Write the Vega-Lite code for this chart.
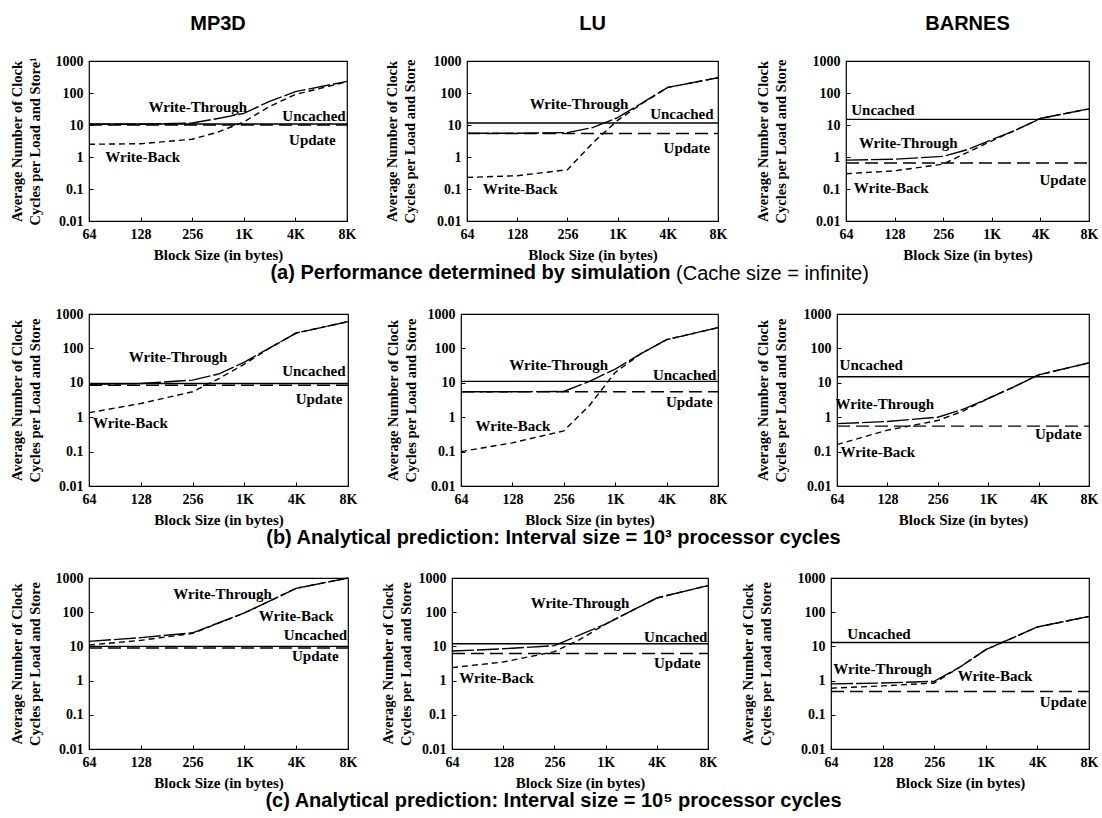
{
"$schema":"https://vega.github.io/schema/vega-lite/v6.json",
"background":"white",
"padding":{"left":8,"top":13,"right":0,"bottom":2},
"datasets":{"d":[
{"p":"aM","k":"L","s":"U","x":0,"v":10.8},{"p":"aM","k":"L","s":"U","x":5,"v":10.8},
{"p":"aM","k":"L","s":"P","x":0,"v":10},{"p":"aM","k":"L","s":"P","x":5,"v":10},
{"p":"aM","k":"L","s":"T","x":0,"v":10.5},{"p":"aM","k":"L","s":"T","x":1,"v":10.5},{"p":"aM","k":"L","s":"T","x":2,"v":11.5},{"p":"aM","k":"L","s":"T","x":2.5,"v":16},{"p":"aM","k":"L","s":"T","x":3,"v":23},{"p":"aM","k":"L","s":"T","x":3.5,"v":55},{"p":"aM","k":"L","s":"T","x":4,"v":110},{"p":"aM","k":"L","s":"T","x":5,"v":230},
{"p":"aM","k":"L","s":"B","x":0,"v":2.5},{"p":"aM","k":"L","s":"B","x":1,"v":2.6},{"p":"aM","k":"L","s":"B","x":2,"v":3.6},{"p":"aM","k":"L","s":"B","x":2.5,"v":6},{"p":"aM","k":"L","s":"B","x":3,"v":12.5},{"p":"aM","k":"L","s":"B","x":3.5,"v":38},{"p":"aM","k":"L","s":"B","x":4,"v":90},{"p":"aM","k":"L","s":"B","x":5,"v":225},
{"p":"aM","k":"T","t":"Write-Through","x":2.11,"v":36},{"p":"aM","k":"T","t":"Uncached","x":4.36,"v":19},{"p":"aM","k":"T","t":"Update","x":4.33,"v":3.4},{"p":"aM","k":"T","t":"Write-Back","x":1.04,"v":1.0},

{"p":"aL","k":"L","s":"U","x":0,"v":11.5},{"p":"aL","k":"L","s":"U","x":5,"v":11.5},
{"p":"aL","k":"L","s":"P","x":0,"v":5.4},{"p":"aL","k":"L","s":"P","x":5,"v":5.4},
{"p":"aL","k":"L","s":"T","x":0,"v":5.5},{"p":"aL","k":"L","s":"T","x":1,"v":5.5},{"p":"aL","k":"L","s":"T","x":2,"v":5.8},{"p":"aL","k":"L","s":"T","x":2.5,"v":8.3},{"p":"aL","k":"L","s":"T","x":3,"v":17},{"p":"aL","k":"L","s":"T","x":3.5,"v":50},{"p":"aL","k":"L","s":"T","x":4,"v":150},{"p":"aL","k":"L","s":"T","x":5,"v":300},
{"p":"aL","k":"L","s":"B","x":0,"v":0.23},{"p":"aL","k":"L","s":"B","x":1,"v":0.26},{"p":"aL","k":"L","s":"B","x":2,"v":0.4},{"p":"aL","k":"L","s":"B","x":2.5,"v":2.7},{"p":"aL","k":"L","s":"B","x":3,"v":14},{"p":"aL","k":"L","s":"B","x":3.5,"v":48},{"p":"aL","k":"L","s":"B","x":4,"v":150},{"p":"aL","k":"L","s":"B","x":5,"v":300},
{"p":"aL","k":"T","t":"Write-Through","x":2.23,"v":46},{"p":"aL","k":"T","t":"Uncached","x":4.28,"v":22},{"p":"aL","k":"T","t":"Update","x":4.38,"v":1.9},{"p":"aL","k":"T","t":"Write-Back","x":1.06,"v":0.1},

{"p":"aB","k":"L","s":"U","x":0,"v":15},{"p":"aB","k":"L","s":"U","x":5,"v":15},
{"p":"aB","k":"L","s":"P","x":0,"v":0.65},{"p":"aB","k":"L","s":"P","x":5,"v":0.65},
{"p":"aB","k":"L","s":"T","x":0,"v":0.8},{"p":"aB","k":"L","s":"T","x":1,"v":0.85},{"p":"aB","k":"L","s":"T","x":2,"v":1.05},{"p":"aB","k":"L","s":"T","x":2.5,"v":1.7},{"p":"aB","k":"L","s":"T","x":3,"v":3.5},{"p":"aB","k":"L","s":"T","x":3.5,"v":7},{"p":"aB","k":"L","s":"T","x":4,"v":16},{"p":"aB","k":"L","s":"T","x":5,"v":32},
{"p":"aB","k":"L","s":"B","x":0,"v":0.3},{"p":"aB","k":"L","s":"B","x":1,"v":0.37},{"p":"aB","k":"L","s":"B","x":2,"v":0.6},{"p":"aB","k":"L","s":"B","x":2.5,"v":1.4},{"p":"aB","k":"L","s":"B","x":3,"v":3.2},{"p":"aB","k":"L","s":"B","x":3.5,"v":7},{"p":"aB","k":"L","s":"B","x":4,"v":16},{"p":"aB","k":"L","s":"B","x":5,"v":32},
{"p":"aB","k":"T","t":"Uncached","x":0.76,"v":30},{"p":"aB","k":"T","t":"Write-Through","x":1.28,"v":2.7},{"p":"aB","k":"T","t":"Update","x":4.46,"v":0.19},{"p":"aB","k":"T","t":"Write-Back","x":0.93,"v":0.11},

{"p":"bM","k":"L","s":"U","x":0,"v":9.5},{"p":"bM","k":"L","s":"U","x":5,"v":9.5},
{"p":"bM","k":"L","s":"P","x":0,"v":8.5},{"p":"bM","k":"L","s":"P","x":5,"v":8.5},
{"p":"bM","k":"L","s":"T","x":0,"v":9},{"p":"bM","k":"L","s":"T","x":1,"v":9.5},{"p":"bM","k":"L","s":"T","x":2,"v":12},{"p":"bM","k":"L","s":"T","x":2.5,"v":18},{"p":"bM","k":"L","s":"T","x":3,"v":40},{"p":"bM","k":"L","s":"T","x":3.5,"v":105},{"p":"bM","k":"L","s":"T","x":4,"v":280},{"p":"bM","k":"L","s":"T","x":5,"v":600},
{"p":"bM","k":"L","s":"B","x":0,"v":1.35},{"p":"bM","k":"L","s":"B","x":1,"v":2.5},{"p":"bM","k":"L","s":"B","x":2,"v":5.5},{"p":"bM","k":"L","s":"B","x":2.5,"v":13},{"p":"bM","k":"L","s":"B","x":3,"v":35},{"p":"bM","k":"L","s":"B","x":3.5,"v":105},{"p":"bM","k":"L","s":"B","x":4,"v":280},{"p":"bM","k":"L","s":"B","x":5,"v":600},
{"p":"bM","k":"T","t":"Write-Through","x":1.72,"v":56},{"p":"bM","k":"T","t":"Uncached","x":4.34,"v":22},{"p":"bM","k":"T","t":"Update","x":4.44,"v":3.3},{"p":"bM","k":"T","t":"Write-Back","x":0.8,"v":0.66},

{"p":"bL","k":"L","s":"U","x":0,"v":11},{"p":"bL","k":"L","s":"U","x":5,"v":11},
{"p":"bL","k":"L","s":"P","x":0,"v":5.5},{"p":"bL","k":"L","s":"P","x":5,"v":5.5},
{"p":"bL","k":"L","s":"T","x":0,"v":5.5},{"p":"bL","k":"L","s":"T","x":1,"v":5.5},{"p":"bL","k":"L","s":"T","x":2,"v":5.6},{"p":"bL","k":"L","s":"T","x":2.5,"v":11},{"p":"bL","k":"L","s":"T","x":3,"v":25},{"p":"bL","k":"L","s":"T","x":3.5,"v":70},{"p":"bL","k":"L","s":"T","x":4,"v":180},{"p":"bL","k":"L","s":"T","x":5,"v":400},
{"p":"bL","k":"L","s":"B","x":0,"v":0.1},{"p":"bL","k":"L","s":"B","x":1,"v":0.18},{"p":"bL","k":"L","s":"B","x":2,"v":0.4},{"p":"bL","k":"L","s":"B","x":2.5,"v":2.2},{"p":"bL","k":"L","s":"B","x":3,"v":20},{"p":"bL","k":"L","s":"B","x":3.5,"v":70},{"p":"bL","k":"L","s":"B","x":4,"v":180},{"p":"bL","k":"L","s":"B","x":5,"v":400},
{"p":"bL","k":"T","t":"Write-Through","x":1.9,"v":33},{"p":"bL","k":"T","t":"Uncached","x":4.35,"v":17},{"p":"bL","k":"T","t":"Update","x":4.44,"v":2.7},{"p":"bL","k":"T","t":"Write-Back","x":1.01,"v":0.54},

{"p":"bB","k":"L","s":"U","x":0,"v":15},{"p":"bB","k":"L","s":"U","x":5,"v":15},
{"p":"bB","k":"L","s":"P","x":0,"v":0.55},{"p":"bB","k":"L","s":"P","x":5,"v":0.55},
{"p":"bB","k":"L","s":"T","x":0,"v":0.65},{"p":"bB","k":"L","s":"T","x":1,"v":0.75},{"p":"bB","k":"L","s":"T","x":2,"v":1.0},{"p":"bB","k":"L","s":"T","x":2.5,"v":1.7},{"p":"bB","k":"L","s":"T","x":3,"v":3.5},{"p":"bB","k":"L","s":"T","x":3.5,"v":7.5},{"p":"bB","k":"L","s":"T","x":4,"v":17},{"p":"bB","k":"L","s":"T","x":5,"v":38},
{"p":"bB","k":"L","s":"B","x":0,"v":0.16},{"p":"bB","k":"L","s":"B","x":1,"v":0.42},{"p":"bB","k":"L","s":"B","x":2,"v":0.8},{"p":"bB","k":"L","s":"B","x":2.5,"v":1.5},{"p":"bB","k":"L","s":"B","x":3,"v":3.5},{"p":"bB","k":"L","s":"B","x":3.5,"v":7.5},{"p":"bB","k":"L","s":"B","x":4,"v":17},{"p":"bB","k":"L","s":"B","x":5,"v":38},
{"p":"bB","k":"T","t":"Uncached","x":0.68,"v":33},{"p":"bB","k":"T","t":"Write-Through","x":0.95,"v":2.4},{"p":"bB","k":"T","t":"Update","x":4.39,"v":0.32},{"p":"bB","k":"T","t":"Write-Back","x":0.81,"v":0.1},

{"p":"cM","k":"L","s":"U","x":0,"v":10},{"p":"cM","k":"L","s":"U","x":5,"v":10},
{"p":"cM","k":"L","s":"P","x":0,"v":9},{"p":"cM","k":"L","s":"P","x":5,"v":9},
{"p":"cM","k":"L","s":"T","x":0,"v":14},{"p":"cM","k":"L","s":"T","x":1,"v":18},{"p":"cM","k":"L","s":"T","x":2,"v":25},{"p":"cM","k":"L","s":"T","x":3,"v":95},{"p":"cM","k":"L","s":"T","x":4,"v":500},{"p":"cM","k":"L","s":"T","x":5,"v":1000},
{"p":"cM","k":"L","s":"B","x":0,"v":11},{"p":"cM","k":"L","s":"B","x":1,"v":15},{"p":"cM","k":"L","s":"B","x":2,"v":24},{"p":"cM","k":"L","s":"B","x":3,"v":95},{"p":"cM","k":"L","s":"B","x":4,"v":500},{"p":"cM","k":"L","s":"B","x":5,"v":1000},
{"p":"cM","k":"T","t":"Write-Through","x":2.58,"v":350},{"p":"cM","k":"T","t":"Write-Back","x":4.0,"v":80},{"p":"cM","k":"T","t":"Uncached","x":4.37,"v":21},{"p":"cM","k":"T","t":"Update","x":4.37,"v":5.2},

{"p":"cL","k":"L","s":"U","x":0,"v":12},{"p":"cL","k":"L","s":"U","x":5,"v":12},
{"p":"cL","k":"L","s":"P","x":0,"v":6.2},{"p":"cL","k":"L","s":"P","x":5,"v":6.2},
{"p":"cL","k":"L","s":"T","x":0,"v":7.3},{"p":"cL","k":"L","s":"T","x":1,"v":8.5},{"p":"cL","k":"L","s":"T","x":2,"v":10.5},{"p":"cL","k":"L","s":"T","x":3,"v":45},{"p":"cL","k":"L","s":"T","x":4,"v":260},{"p":"cL","k":"L","s":"T","x":5,"v":600},
{"p":"cL","k":"L","s":"B","x":0,"v":2.4},{"p":"cL","k":"L","s":"B","x":1,"v":3.5},{"p":"cL","k":"L","s":"B","x":2,"v":7},{"p":"cL","k":"L","s":"B","x":2.5,"v":16},{"p":"cL","k":"L","s":"B","x":3,"v":45},{"p":"cL","k":"L","s":"B","x":4,"v":260},{"p":"cL","k":"L","s":"B","x":5,"v":600},
{"p":"cL","k":"T","t":"Write-Through","x":2.5,"v":180},{"p":"cL","k":"T","t":"Uncached","x":4.37,"v":19},{"p":"cL","k":"T","t":"Update","x":4.4,"v":3.3},{"p":"cL","k":"T","t":"Write-Back","x":0.87,"v":1.16},

{"p":"cB","k":"L","s":"U","x":0,"v":13},{"p":"cB","k":"L","s":"U","x":5,"v":13},
{"p":"cB","k":"L","s":"P","x":0,"v":0.48},{"p":"cB","k":"L","s":"P","x":5,"v":0.48},
{"p":"cB","k":"L","s":"T","x":0,"v":0.8},{"p":"cB","k":"L","s":"T","x":1,"v":0.85},{"p":"cB","k":"L","s":"T","x":2,"v":0.95},{"p":"cB","k":"L","s":"T","x":2.5,"v":2.5},{"p":"cB","k":"L","s":"T","x":3,"v":8},{"p":"cB","k":"L","s":"T","x":4,"v":37},{"p":"cB","k":"L","s":"T","x":5,"v":75},
{"p":"cB","k":"L","s":"B","x":0,"v":0.6},{"p":"cB","k":"L","s":"B","x":1,"v":0.7},{"p":"cB","k":"L","s":"B","x":2,"v":0.85},{"p":"cB","k":"L","s":"B","x":2.5,"v":2.5},{"p":"cB","k":"L","s":"B","x":3,"v":8},{"p":"cB","k":"L","s":"B","x":4,"v":37},{"p":"cB","k":"L","s":"B","x":5,"v":75},
{"p":"cB","k":"T","t":"Uncached","x":0.93,"v":23},{"p":"cB","k":"T","t":"Write-Through","x":1.0,"v":2.2},{"p":"cB","k":"T","t":"Write-Back","x":3.18,"v":1.4},{"p":"cB","k":"T","t":"Update","x":4.5,"v":0.23}
]},
"data":{"name":"d"},
"vconcat":[
{"vconcat":[{"hconcat":[
{"width":258,"height":160,"title":{"text":"MP3D","offset":20},"transform":[{"filter":"datum.p=='aM'"}],
 "encoding":{"x":{"field":"x","type":"quantitative","scale":{"domain":[0,5],"nice":false,"zero":false},"axis":{"values":[0,1,2,3,4,5],"labelExpr":"datum.value==0?'64':datum.value==1?'128':datum.value==2?'256':datum.value==3?'1K':datum.value==4?'4K':'8K'","title":"Block Size (in bytes)"}},
  "y":{"field":"v","type":"quantitative","scale":{"type":"log","domain":[0.01,1000],"nice":false},"axis":{"values":[0.01,0.1,1,10,100,1000],"labelExpr":"datum.value<1?format(datum.value,'.2~f'):format(datum.value,'d')","title":["Average Number of Clock","Cycles per Load and Store¹"],"titlePadding":13}}},
 "layer":[{"transform":[{"filter":"datum.k=='L'"}],"mark":{"type":"line","color":"black","strokeWidth":1.4},"encoding":{"detail":{"field":"s"},"strokeDash":{"field":"s","scale":{"domain":["U","P","T","B"],"range":[[1,0],[13,6],[22,3],[6,4]]},"legend":null}}},
  {"transform":[{"filter":"datum.k=='T'"}],"mark":{"type":"text","font":"Liberation Serif","fontWeight":"bold","fontSize":15,"color":"black"},"encoding":{"text":{"field":"t"}}}]},
{"width":251,"height":160,"title":{"text":"LU","offset":20},"transform":[{"filter":"datum.p=='aL'"}],
 "encoding":{"x":{"field":"x","type":"quantitative","scale":{"domain":[0,5],"nice":false,"zero":false},"axis":{"values":[0,1,2,3,4,5],"labelExpr":"datum.value==0?'64':datum.value==1?'128':datum.value==2?'256':datum.value==3?'1K':datum.value==4?'4K':'8K'","title":"Block Size (in bytes)"}},
  "y":{"field":"v","type":"quantitative","scale":{"type":"log","domain":[0.01,1000],"nice":false},"axis":{"values":[0.01,0.1,1,10,100,1000],"labelExpr":"datum.value<1?format(datum.value,'.2~f'):format(datum.value,'d')","title":["Average Number of Clock","Cycles per Load and Store"],"titlePadding":16}}},
 "layer":[{"transform":[{"filter":"datum.k=='L'"}],"mark":{"type":"line","color":"black","strokeWidth":1.4},"encoding":{"detail":{"field":"s"},"strokeDash":{"field":"s","scale":{"domain":["U","P","T","B"],"range":[[1,0],[13,6],[22,3],[6,4]]},"legend":null}}},
  {"transform":[{"filter":"datum.k=='T'"}],"mark":{"type":"text","font":"Liberation Serif","fontWeight":"bold","fontSize":15,"color":"black"},"encoding":{"text":{"field":"t"}}}]},
{"width":243,"height":160,"title":{"text":"BARNES","offset":20},"transform":[{"filter":"datum.p=='aB'"}],
 "encoding":{"x":{"field":"x","type":"quantitative","scale":{"domain":[0,5],"nice":false,"zero":false},"axis":{"values":[0,1,2,3,4,5],"labelExpr":"datum.value==0?'64':datum.value==1?'128':datum.value==2?'256':datum.value==3?'1K':datum.value==4?'4K':'8K'","title":"Block Size (in bytes)"}},
  "y":{"field":"v","type":"quantitative","scale":{"type":"log","domain":[0.01,1000],"nice":false},"axis":{"values":[0.01,0.1,1,10,100,1000],"labelExpr":"datum.value<1?format(datum.value,'.2~f'):format(datum.value,'d')","title":["Average Number of Clock","Cycles per Load and Store"],"titlePadding":24}}},
 "layer":[{"transform":[{"filter":"datum.k=='L'"}],"mark":{"type":"line","color":"black","strokeWidth":1.4},"encoding":{"detail":{"field":"s"},"strokeDash":{"field":"s","scale":{"domain":["U","P","T","B"],"range":[[1,0],[13,6],[22,3],[6,4]]},"legend":null}}},
  {"transform":[{"filter":"datum.k=='T'"}],"mark":{"type":"text","font":"Liberation Serif","fontWeight":"bold","fontSize":15,"color":"black"},"encoding":{"text":{"field":"t"}}}]}
],"spacing":26,"title":{"text":"(a) Performance determined by simulation","orient":"bottom","anchor":"middle","dx":-83,"offset":0}}],
"title":{"text":"(Cache size = infinite)","orient":"bottom","anchor":"middle","fontWeight":"normal","dx":219,"offset":-19}},

{"hconcat":[
{"width":259,"height":172,"transform":[{"filter":"datum.p=='bM'"}],
 "encoding":{"x":{"field":"x","type":"quantitative","scale":{"domain":[0,5],"nice":false,"zero":false},"axis":{"values":[0,1,2,3,4,5],"labelExpr":"datum.value==0?'64':datum.value==1?'128':datum.value==2?'256':datum.value==3?'1K':datum.value==4?'4K':'8K'","title":"Block Size (in bytes)"}},
  "y":{"field":"v","type":"quantitative","scale":{"type":"log","domain":[0.01,1000],"nice":false},"axis":{"values":[0.01,0.1,1,10,100,1000],"labelExpr":"datum.value<1?format(datum.value,'.2~f'):format(datum.value,'d')","title":["Average Number of Clock","Cycles per Load and Store"],"titlePadding":13}}},
 "layer":[{"transform":[{"filter":"datum.k=='L'"}],"mark":{"type":"line","color":"black","strokeWidth":1.4},"encoding":{"detail":{"field":"s"},"strokeDash":{"field":"s","scale":{"domain":["U","P","T","B"],"range":[[1,0],[13,6],[22,3],[6,4]]},"legend":null}}},
  {"transform":[{"filter":"datum.k=='T'"}],"mark":{"type":"text","font":"Liberation Serif","fontWeight":"bold","fontSize":15,"color":"black"},"encoding":{"text":{"field":"t"}}}]},
{"width":257,"height":172,"transform":[{"filter":"datum.p=='bL'"}],
 "encoding":{"x":{"field":"x","type":"quantitative","scale":{"domain":[0,5],"nice":false,"zero":false},"axis":{"values":[0,1,2,3,4,5],"labelExpr":"datum.value==0?'64':datum.value==1?'128':datum.value==2?'256':datum.value==3?'1K':datum.value==4?'4K':'8K'","title":"Block Size (in bytes)"}},
  "y":{"field":"v","type":"quantitative","scale":{"type":"log","domain":[0.01,1000],"nice":false},"axis":{"values":[0.01,0.1,1,10,100,1000],"labelExpr":"datum.value<1?format(datum.value,'.2~f'):format(datum.value,'d')","title":["Average Number of Clock","Cycles per Load and Store"],"titlePadding":9}}},
 "layer":[{"transform":[{"filter":"datum.k=='L'"}],"mark":{"type":"line","color":"black","strokeWidth":1.4},"encoding":{"detail":{"field":"s"},"strokeDash":{"field":"s","scale":{"domain":["U","P","T","B"],"range":[[1,0],[13,6],[22,3],[6,4]]},"legend":null}}},
  {"transform":[{"filter":"datum.k=='T'"}],"mark":{"type":"text","font":"Liberation Serif","fontWeight":"bold","fontSize":15,"color":"black"},"encoding":{"text":{"field":"t"}}}]},
{"width":252,"height":172,"transform":[{"filter":"datum.p=='bB'"}],
 "encoding":{"x":{"field":"x","type":"quantitative","scale":{"domain":[0,5],"nice":false,"zero":false},"axis":{"values":[0,1,2,3,4,5],"labelExpr":"datum.value==0?'64':datum.value==1?'128':datum.value==2?'256':datum.value==3?'1K':datum.value==4?'4K':'8K'","title":"Block Size (in bytes)"}},
  "y":{"field":"v","type":"quantitative","scale":{"type":"log","domain":[0.01,1000],"nice":false},"axis":{"values":[0.01,0.1,1,10,100,1000],"labelExpr":"datum.value<1?format(datum.value,'.2~f'):format(datum.value,'d')","title":["Average Number of Clock","Cycles per Load and Store"],"titlePadding":15}}},
 "layer":[{"transform":[{"filter":"datum.k=='L'"}],"mark":{"type":"line","color":"black","strokeWidth":1.4},"encoding":{"detail":{"field":"s"},"strokeDash":{"field":"s","scale":{"domain":["U","P","T","B"],"range":[[1,0],[13,6],[22,3],[6,4]]},"legend":null}}},
  {"transform":[{"filter":"datum.k=='T'"}],"mark":{"type":"text","font":"Liberation Serif","fontWeight":"bold","fontSize":15,"color":"black"},"encoding":{"text":{"field":"t"}}}]}
],"spacing":26,"title":{"text":"(b) Analytical prediction: Interval size = 10³ processor cycles","orient":"bottom","anchor":"middle","offset":0}},

{"hconcat":[
{"width":259,"height":171,"transform":[{"filter":"datum.p=='cM'"}],
 "encoding":{"x":{"field":"x","type":"quantitative","scale":{"domain":[0,5],"nice":false,"zero":false},"axis":{"values":[0,1,2,3,4,5],"labelExpr":"datum.value==0?'64':datum.value==1?'128':datum.value==2?'256':datum.value==3?'1K':datum.value==4?'4K':'8K'","title":"Block Size (in bytes)"}},
  "y":{"field":"v","type":"quantitative","scale":{"type":"log","domain":[0.01,1000],"nice":false},"axis":{"values":[0.01,0.1,1,10,100,1000],"labelExpr":"datum.value<1?format(datum.value,'.2~f'):format(datum.value,'d')","title":["Average Number of Clock","Cycles per Load and Store"],"titlePadding":13}}},
 "layer":[{"transform":[{"filter":"datum.k=='L'"}],"mark":{"type":"line","color":"black","strokeWidth":1.4},"encoding":{"detail":{"field":"s"},"strokeDash":{"field":"s","scale":{"domain":["U","P","T","B"],"range":[[1,0],[13,6],[22,3],[6,4]]},"legend":null}}},
  {"transform":[{"filter":"datum.k=='T'"}],"mark":{"type":"text","font":"Liberation Serif","fontWeight":"bold","fontSize":15,"color":"black"},"encoding":{"text":{"field":"t"}}}]},
{"width":256,"height":171,"transform":[{"filter":"datum.p=='cL'"}],
 "encoding":{"x":{"field":"x","type":"quantitative","scale":{"domain":[0,5],"nice":false,"zero":false},"axis":{"values":[0,1,2,3,4,5],"labelExpr":"datum.value==0?'64':datum.value==1?'128':datum.value==2?'256':datum.value==3?'1K':datum.value==4?'4K':'8K'","title":"Block Size (in bytes)"}},
  "y":{"field":"v","type":"quantitative","scale":{"type":"log","domain":[0.01,1000],"nice":false},"axis":{"values":[0.01,0.1,1,10,100,1000],"labelExpr":"datum.value<1?format(datum.value,'.2~f'):format(datum.value,'d')","title":["Average Number of Clock","Cycles per Load and Store"],"titlePadding":5}}},
 "layer":[{"transform":[{"filter":"datum.k=='L'"}],"mark":{"type":"line","color":"black","strokeWidth":1.4},"encoding":{"detail":{"field":"s"},"strokeDash":{"field":"s","scale":{"domain":["U","P","T","B"],"range":[[1,0],[13,6],[22,3],[6,4]]},"legend":null}}},
  {"transform":[{"filter":"datum.k=='T'"}],"mark":{"type":"text","font":"Liberation Serif","fontWeight":"bold","fontSize":15,"color":"black"},"encoding":{"text":{"field":"t"}}}]},
{"width":258,"height":171,"transform":[{"filter":"datum.p=='cB'"}],
 "encoding":{"x":{"field":"x","type":"quantitative","scale":{"domain":[0,5],"nice":false,"zero":false},"axis":{"values":[0,1,2,3,4,5],"labelExpr":"datum.value==0?'64':datum.value==1?'128':datum.value==2?'256':datum.value==3?'1K':datum.value==4?'4K':'8K'","title":"Block Size (in bytes)"}},
  "y":{"field":"v","type":"quantitative","scale":{"type":"log","domain":[0.01,1000],"nice":false},"axis":{"values":[0.01,0.1,1,10,100,1000],"labelExpr":"datum.value<1?format(datum.value,'.2~f'):format(datum.value,'d')","title":["Average Number of Clock","Cycles per Load and Store"],"titlePadding":24}}},
 "layer":[{"transform":[{"filter":"datum.k=='L'"}],"mark":{"type":"line","color":"black","strokeWidth":1.4},"encoding":{"detail":{"field":"s"},"strokeDash":{"field":"s","scale":{"domain":["U","P","T","B"],"range":[[1,0],[13,6],[22,3],[6,4]]},"legend":null}}},
  {"transform":[{"filter":"datum.k=='T'"}],"mark":{"type":"text","font":"Liberation Serif","fontWeight":"bold","fontSize":15,"color":"black"},"encoding":{"text":{"field":"t"}}}]}
],"spacing":21,"title":{"text":"(c) Analytical prediction: Interval size = 10⁵ processor cycles","orient":"bottom","anchor":"middle","offset":0}}
],
"spacing":22,
"config":{
 "view":{"stroke":"black","strokeWidth":1.2},
 "title":{"font":"Liberation Sans","fontSize":20,"fontWeight":"bold","color":"black"},
 "axis":{"grid":false,"domain":false,"tickColor":"black","tickSize":-4,"labelColor":"black","titleColor":"black","labelFont":"Liberation Serif","labelFontWeight":"bold","labelFontSize":14,"titleFont":"Liberation Serif","titleFontWeight":"bold","titleFontSize":15,"labelPadding":10},
 "axisX":{"titlePadding":6,"labelFlush":false},
 "axisY":{"titleFontSize":14.5,"titleLineHeight":18}
}
}
